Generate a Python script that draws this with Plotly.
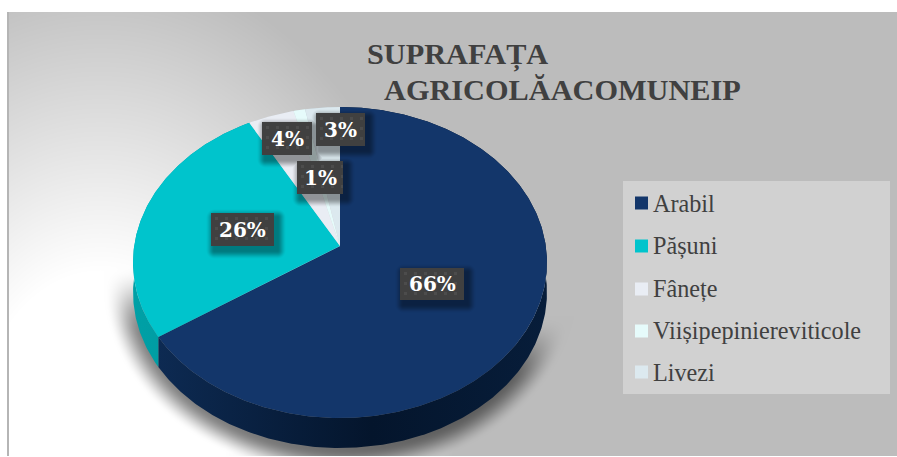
import base64, zlib, struct
import numpy as np
import plotly.graph_objects as go

# ---- data ----
categories = ["Arabil", "Pășuni", "Fânețe", "Viișipepiniereviticole", "Livezi"]
values = [65.6, 26.4, 4, 1, 3]
pct_labels = ["66%", "26%", "4%", "1%", "3%"]
title_lines = ["SUPRAFAȚA", "AGRICOLĂACOMUNEIP"]

# ---- styles ----
top_colors = ["#13366a", "#00c4cc", "#e9edf4", "#e6fbfb", "#dce9ef"]
side_scales = [
    [[0, "#0d2a52"], [0.55, "#04152c"], [1, "#071d3a"]],
    [[0, "#00a0a6"], [1, "#00959b"]],
    [[0, "#c4c8ce"], [1, "#c4c8ce"]],
    [[0, "#c4d2d2"], [1, "#c4d2d2"]],
    [[0, "#b8c4ca"], [1, "#b8c4ca"]],
]
W, H = 897, 457
CX, CY, A, B, K, DEPTH = 340.0, 246.0, 205.8, 153.75, 0.1061, 30.0
label_boxes = [(400, 268, 464, 300), (211, 213, 274, 246), (262, 122, 312, 155),
               (297, 161, 343, 194), (316, 113, 365, 146)]
legend_rows = [203, 246, 289, 331, 372]


def rim(theta):
    u, v = np.sin(theta), np.cos(theta)
    w = 1 + K * v
    return CX + A * u / w, CY - B * v / w


def png_uri(rgba):
    h, w, _ = rgba.shape
    raw = b"".join(b"\x00" + rgba[i].tobytes() for i in range(h))
    def chunk(t, d):
        c = struct.pack(">I", len(d)) + t + d
        return c + struct.pack(">I", zlib.crc32(t + d) & 0xffffffff)
    data = (b"\x89PNG\r\n\x1a\n" + chunk(b"IHDR", struct.pack(">IIBBBBB", w, h, 8, 6, 0, 0, 0))
            + chunk(b"IDAT", zlib.compress(raw, 9)) + chunk(b"IEND", b""))
    return "data:image/png;base64," + base64.b64encode(data).decode()


def smooth(t):
    t = np.clip(t, 0, 1)
    return t * t * (3 - 2 * t)


yy, xx = np.mgrid[0:H, 0:W].astype(float)

# backdrop: soft radial wash + the pie's cast shadow
r = np.hypot((xx - 100) * 1.35, yy - 440)
grey = 255 - 67 * np.clip((r - 170) / 310, 0, 1)
ell = np.sqrt(((xx - 340) / 212) ** 2 + ((yy - 285) / 170) ** 2)
dist = (ell - 1) * 170
fade_start = 265 + 50 * smooth((xx - 340) / 200)
shadow = 0.5 * (1 - smooth((dist + 6) / 26)) * smooth((yy - fade_start) / 70)
grey = grey * (1 - shadow)
bg = np.zeros((H, W, 4), dtype=np.uint8)
bg[..., :3] = np.clip(grey, 0, 255)[..., None].astype(np.uint8)
bg[..., 3] = 255
bg[:12, :, :] = 255
bg[:, :7, :] = 255
bg[12:456, 7:9, :3] = 181
bg[456:, :, :] = 255

# overlay: dark textured label boxes with soft shadows
ov = np.zeros((H, W, 4), dtype=float)
for (x0, y0, x1, y1) in label_boxes:
    dx = np.maximum(np.maximum(x0 + 3 - xx, xx - x1 - 3), 0)
    dy = np.maximum(np.maximum(y0 + 4 - yy, yy - y1 - 4), 0)
    a = 0.38 * (1 - smooth(np.hypot(dx, dy) / 9))
    ov[..., 3] = np.maximum(ov[..., 3], a)
for (x0, y0, x1, y1) in label_boxes:
    m = (xx >= x0) & (xx < x1) & (yy >= y0) & (yy < y1)
    ov[m, 0:3] = 64
    ov[m, 3] = 1
    dots = m & (np.hypot(((xx - x0) % 10.0) - 5, ((yy - y0) % 10.0) - 5) < 1.6)
    ov[dots, 0:3] = 76
overlay = ov.copy()
overlay[..., 3] *= 255
overlay = overlay.astype(np.uint8)

fig = go.Figure()

edges = np.concatenate([[0], np.cumsum(values)]) / np.sum(values) * 2 * np.pi
arcs = [np.linspace(edges[i], edges[i + 1], max(4, int(values[i] * 6))) for i in range(len(values))]

# extruded sides first, top faces over them
for arc, scale, name in zip(arcs, side_scales, categories):
    x, y = rim(arc)
    fig.add_trace(go.Scatter(
        x=np.concatenate([x, x[::-1]]), y=np.concatenate([y, y[::-1] + DEPTH]),
        mode="lines", line=dict(width=0), fill="toself",
        fillgradient=dict(type="horizontal", colorscale=scale),
        hoverinfo="skip", showlegend=False, name=name))
for arc, col, name, val in zip(arcs, top_colors, categories, values):
    x, y = rim(arc)
    fig.add_trace(go.Scatter(
        x=np.concatenate([[CX], x, [CX]]), y=np.concatenate([[CY], y, [CY]]),
        mode="lines", line=dict(width=0), fill="toself", fillcolor=col,
        hoveron="fills", text=f"{name}: {val}%", hoverinfo="text", showlegend=False, name=name))

ann = []
for (x0, y0, x1, y1), lab in zip(label_boxes, pct_labels):
    ann.append(dict(x=(x0 + x1) / 2, y=(y0 + y1) / 2, xref="x", yref="y", text=f"<b>{lab}</b>", showarrow=False,
                    font=dict(family="DejaVu Serif", size=20, color="#ffffff"), xanchor="center", yanchor="middle"))
shapes = [dict(type="rect", xref="x", yref="y", x0=623, x1=890, y0=181, y1=394,
               fillcolor="#d1d1d1", line=dict(width=0), layer="above")]
for name, col, yc in zip(categories, top_colors, legend_rows):
    shapes.append(dict(type="rect", xref="x", yref="y", x0=635, x1=648, y0=yc - 6.5, y1=yc + 6.5,
                       fillcolor=col, line=dict(width=0), layer="above"))
    ann.append(dict(x=651, y=yc, xref="x", yref="y", text=name, showarrow=False, xanchor="left", yanchor="middle",
                    font=dict(family="Liberation Serif", size=24.2, color="#404040")))
for line, x0, yc in zip(title_lines, [365, 382], [54, 90]):
    ann.append(dict(x=x0, y=yc, xref="x", yref="y", text=f"<b>{line}</b>", showarrow=False, xanchor="left",
                    yanchor="middle", font=dict(family="Liberation Serif", size=30.3, color="#404040")))

fig.update_layout(
    width=W, height=H, margin=dict(l=0, r=0, t=0, b=0), paper_bgcolor="#ffffff", plot_bgcolor="rgba(0,0,0,0)",
    showlegend=False, annotations=ann, shapes=shapes,
    xaxis=dict(range=[0, W], visible=False, fixedrange=True),
    yaxis=dict(range=[H, 0], visible=False, fixedrange=True),
    images=[
        dict(source=png_uri(bg), xref="x", yref="y", x=0, y=0, sizex=W, sizey=H, sizing="stretch", layer="below",
             xanchor="left", yanchor="top"),
        dict(source=png_uri(overlay), xref="x", yref="y", x=0, y=0, sizex=W, sizey=H, sizing="stretch", layer="above",
             xanchor="left", yanchor="top"),
    ],
)
fig.write_html("out.html", config={"displayModeBar": False},
               post_script="document.body.style.margin='0';document.documentElement.style.overflow='hidden';")
